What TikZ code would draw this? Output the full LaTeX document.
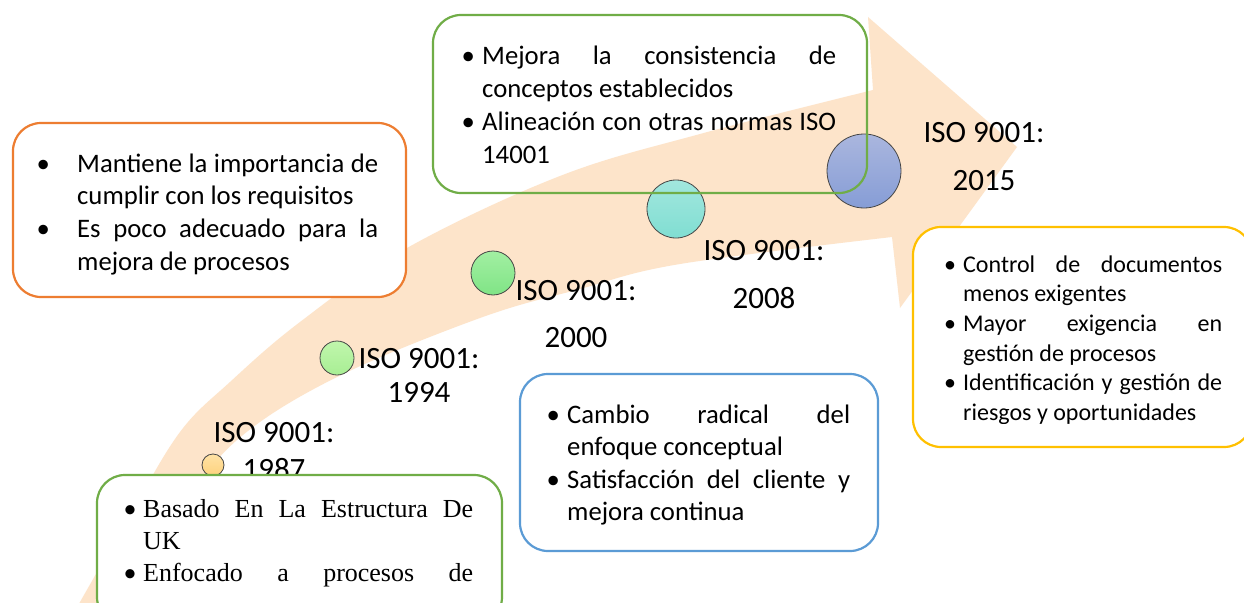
\documentclass[tikz,border=0pt]{standalone}
\usepackage{fontspec}
\setmainfont{Carlito}
\newfontfamily\tnr{Liberation Serif}
\definecolor{peach}{RGB}{253,228,202}
\definecolor{borange}{RGB}{237,125,49}
\definecolor{bgreen}{RGB}{112,173,71}
\definecolor{bblue}{RGB}{91,155,213}
\definecolor{byellow}{RGB}{255,192,0}
\definecolor{cedge}{RGB}{70,70,70}
\newcommand\twoline[3]{\vtop{\baselineskip=#3\relax\halign{\hfil##\hfil\cr #1\cr #2\cr}}}
\newcommand\bul[1]{\llap{\makebox[0pt][c]{\rmfamily\textbullet}\hskip #1\relax}}
\tikzset{
  boxshape/.style={rounded corners=28pt, line width=2.2pt, inner sep=0pt},
  dot/.style={circle, inner sep=0pt, draw=cedge, line width=0.8pt},
  lab/.style={anchor=base, inner sep=0pt, font=\fontsize{31pt}{37pt}\selectfont},
  txt/.style={anchor=base west, inner sep=0pt, font=\fontsize{26.7pt}{32.7pt}\selectfont},
}
\begin{document}
\begin{tikzpicture}[x=1pt, y=-1pt]
\clip (0,0) rectangle (1244,602);
\fill[white] (0,0) rectangle (1244,602);
% ascending arrow
\fill[peach] plot[smooth, tension=0.6] coordinates {(69,622) (80,602) (130,515) (180,432) (230,382) (300,322) (407,248) (560,176) (700,134) (873,90)}
  -- (868,17) -- (1017,147) -- (900,308) -- (892,237)
  -- plot[smooth, tension=0.6] coordinates {(892,237) (680,264) (580,289) (480,318) (335,378) (237,440) (180,512) (128,602) (116,622)} -- cycle;
% circles
\node[dot, minimum size=22pt, top color={rgb,255:red,255;green,226;blue,165}, bottom color={rgb,255:red,254;green,210;blue,125}] (c1987) at (213,465) {};
\node[dot, minimum size=34pt, top color={rgb,255:red,192;green,246;blue,172}, bottom color={rgb,255:red,168;green,238;blue,148}] (c1994) at (337,358) {};
\node[dot, minimum size=44pt, top color={rgb,255:red,162;green,239;blue,162}, bottom color={rgb,255:red,128;green,228;blue,134}] (c2000) at (493,273) {};
\node[dot, minimum size=58pt, top color={rgb,255:red,162;green,231;blue,222}, bottom color={rgb,255:red,128;green,222;blue,210}] (c2008) at (676,209) {};
\node[dot, minimum size=74pt, top color={rgb,255:red,170;green,182;blue,222}, bottom color={rgb,255:red,134;green,157;blue,214}] (c2015) at (864,171) {};
% labels
\node[lab] (l1987) at (274,442) {\twoline{ISO 9001:}{1987}{37pt}};
\node[lab] (l1994) at (419,368) {\twoline{ISO 9001:}{1994}{34pt}};
\node[lab] (l2000) at (576,300) {\twoline{ISO 9001:}{2000}{47pt}};
\node[lab] (l2008) at (764,260) {\twoline{ISO 9001:}{2008}{48pt}};
\node[lab] (l2015) at (984,142) {\twoline{ISO 9001:}{2015}{48pt}};
% orange box
\node[boxshape, draw=borange, fill=white, minimum width=393pt, minimum height=174pt] (borg) at (209.5,210) {};
\node[txt] (torg) at (77,172) {\vtop{\baselineskip=32.7pt
\hbox to 301pt{\bul{34pt}Mantiene\hfill la\hfill importancia\hfill de}
\hbox to 301pt{cumplir con los requisitos\hfill}
\hbox to 301pt{\bul{34pt}Es\hfill poco\hfill adecuado\hfill para\hfill la}
\hbox to 301pt{mejora de procesos\hfill}}};
% top green box (no fill)
\node[boxshape, draw=bgreen, minimum width=434pt, minimum height=178pt] (bgrt) at (650,104) {};
\node[txt] (tgrt) at (482,65) {\vtop{\baselineskip=32.7pt
\hbox to 354pt{\bul{14pt}Mejora\hfill la\hfill consistencia\hfill de}
\hbox to 354pt{conceptos establecidos\hfill}
\hbox to 354pt{\bul{14pt}Alineación\hfill con\hfill otras\hfill normas\hfill ISO}
\hbox to 354pt{14001\hfill}}};
% blue box
\node[boxshape, draw=bblue, fill=white, minimum width=358pt, minimum height=177pt] (bblu) at (699,462.5) {};
\node[txt] (tblu) at (567,423) {\vtop{\baselineskip=32.5pt
\hbox to 283pt{\bul{14pt}Cambio\hfill radical\hfill del}
\hbox to 283pt{enfoque conceptual\hfill}
\hbox to 283pt{\bul{14pt}Satisfacción\hfill del\hfill cliente\hfill y}
\hbox to 283pt{mejora continua\hfill}}};
% yellow box
\node[boxshape, draw=byellow, fill=white, minimum width=339pt, minimum height=220pt] (byel) at (1082.5,337) {};
\begin{scope}
\clip (905,230) rectangle (1244,423);
\node[txt, font=\fontsize{24pt}{29.7pt}\selectfont] (tyel) at (963,272) {\vtop{\baselineskip=29.7pt
\hbox to 259pt{\bul{13pt}Control\hfill de\hfill documentos}
\hbox to 259pt{menos exigentes\hfill}
\hbox to 259pt{\bul{13pt}Mayor\hfill exigencia\hfill en}
\hbox to 259pt{gestión de procesos\hfill}
\hbox to 259pt{\bul{13pt}Identificación\hfill y\hfill gestión\hfill de}
\hbox to 259pt{riesgos y oportunidades\hfill}}};
\end{scope}
% bottom green box
\node[boxshape, draw=bgreen, fill=white, minimum width=405pt, minimum height=150pt] (bgrb) at (299.5,550) {};
\node[txt, font=\tnr\fontsize{26pt}{32pt}\selectfont] (tgrb) at (143,517) {\vtop{\baselineskip=32pt
\hbox to 330pt{\bul{13pt}Basado\hfill En\hfill La\hfill Estructura\hfill De}
\hbox to 330pt{UK\hfill}
\hbox to 330pt{\bul{13pt}Enfocado\hfill a\hfill procesos\hfill de}}};
\end{tikzpicture}
\end{document}
